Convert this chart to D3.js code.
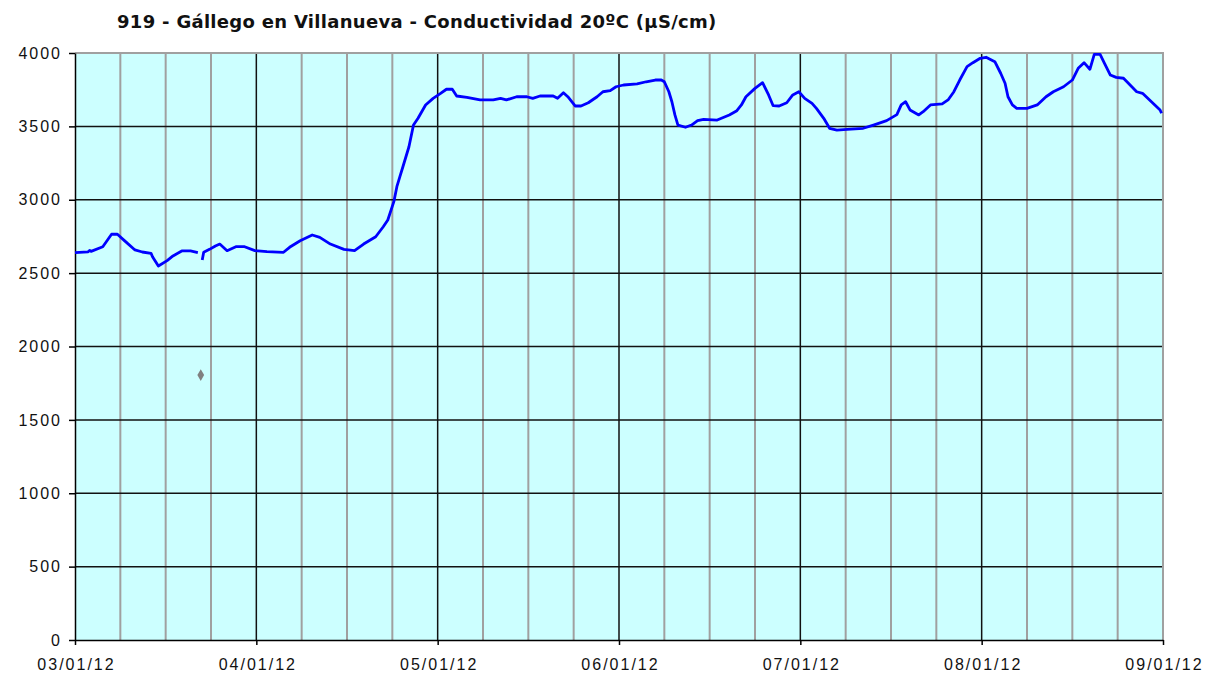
<!DOCTYPE html>
<html>
<head>
<meta charset="utf-8">
<script src="https://cdn.jsdelivr.net/npm/d3@7"></script>
<style>
  body { margin: 0; background: #fff; }
</style>
</head>
<body>
<div id="chart"></div>
<script>
const title = "919 - Gállego en Villanueva - Conductividad 20ºC (µS/cm)";
const monthTicks = ["2012-03-01", "2012-04-01", "2012-05-01", "2012-06-01", "2012-07-01", "2012-08-01", "2012-09-01"];
const yTicks = [0, 500, 1000, 1500, 2000, 2500, 3000, 3500, 4000];

// readings (null = gap in the record)
const times = [
  "2012-03-01T00", "2012-03-03T06", "2012-03-03T12", "2012-03-03T18", "2012-03-05T18", "2012-03-07T06",
  "2012-03-08T06", "2012-03-09T12", "2012-03-11T06", "2012-03-12T12", "2012-03-14T00", "2012-03-14T06",
  "2012-03-15T06", "2012-03-16T18", "2012-03-17T18", "2012-03-19T06", "2012-03-20T18", "2012-03-22T00",
  "2012-03-22T06",
  "2012-03-22T18", "2012-03-23T00", "2012-03-24T00", "2012-03-25T00", "2012-03-25T18", "2012-03-27T00",
  "2012-03-28T12", "2012-03-30T00", "2012-03-31T18",
  "2012-04-02T18", "2012-04-05T12", "2012-04-06T12", "2012-04-08T06", "2012-04-10T06", "2012-04-11T12",
  "2012-04-13T06", "2012-04-15T12", "2012-04-17T06", "2012-04-18T18", "2012-04-20T18", "2012-04-22T00",
  "2012-04-22T18", "2012-04-23T18", "2012-04-24T06", "2012-04-24T18", "2012-04-25T06", "2012-04-26T06",
  "2012-04-27T00", "2012-04-27T18", "2012-04-29T00", "2012-04-30T06",
  "2012-05-01T12", "2012-05-02T12", "2012-05-03T12", "2012-05-04T06", "2012-05-06T00", "2012-05-08T06",
  "2012-05-10T12", "2012-05-11T18", "2012-05-12T18", "2012-05-14T12", "2012-05-16T06", "2012-05-17T06",
  "2012-05-18T12", "2012-05-20T18", "2012-05-21T12", "2012-05-22T12", "2012-05-23T06", "2012-05-24T12",
  "2012-05-25T12", "2012-05-26T18", "2012-05-28T06", "2012-05-29T06", "2012-05-30T12", "2012-05-31T12",
  "2012-06-01T18", "2012-06-04T00", "2012-06-05T12", "2012-06-07T00", "2012-06-08T00", "2012-06-08T12",
  "2012-06-09T06", "2012-06-09T18", "2012-06-10T06", "2012-06-10T18", "2012-06-12T00", "2012-06-13T00",
  "2012-06-14T00", "2012-06-15T00", "2012-06-17T06", "2012-06-19T06", "2012-06-20T12", "2012-06-21T06",
  "2012-06-22T00", "2012-06-23T12", "2012-06-24T18", "2012-06-25T18", "2012-06-26T12", "2012-06-27T12",
  "2012-06-28T18", "2012-06-29T18", "2012-06-30T18",
  "2012-07-01T18", "2012-07-03T00", "2012-07-03T18", "2012-07-05T00", "2012-07-06T00", "2012-07-07T06",
  "2012-07-09T00", "2012-07-11T18", "2012-07-13T12", "2012-07-15T18", "2012-07-17T12", "2012-07-18T06",
  "2012-07-19T00", "2012-07-19T18", "2012-07-21T06", "2012-07-22T00", "2012-07-23T06", "2012-07-25T06",
  "2012-07-26T06", "2012-07-27T06", "2012-07-28T06", "2012-07-29T12", "2012-07-30T12", "2012-07-31T18",
  "2012-08-01T18", "2012-08-03T06", "2012-08-04T06", "2012-08-05T00", "2012-08-05T12", "2012-08-06T06",
  "2012-08-07T00", "2012-08-08T18", "2012-08-10T12", "2012-08-12T00", "2012-08-13T06", "2012-08-15T00",
  "2012-08-16T12", "2012-08-17T12", "2012-08-18T12", "2012-08-19T12", "2012-08-20T06", "2012-08-21T06",
  "2012-08-22T00", "2012-08-23T00", "2012-08-24T00", "2012-08-25T06", "2012-08-27T12", "2012-08-28T12",
  "2012-08-31T12", "2012-08-31T18"
];
const values = [
  2640, 2645, 2655, 2648, 2680, 2765,
  2765, 2720, 2658, 2644, 2635, 2612,
  2549, 2585, 2617, 2651, 2651, 2639,
  null,
  2589, 2642, 2662, 2685, 2698, 2653,
  2680, 2680, 2653,
  2646, 2642, 2676, 2721, 2760, 2744,
  2698, 2662, 2653, 2698, 2748, 2816,
  2862, 2987, 3089, 3157, 3225, 3361,
  3509, 3555, 3646, 3691,
  3725, 3753, 3753, 3707, 3698, 3680,
  3680, 3691, 3680, 3702, 3702, 3691,
  3707, 3707, 3691, 3729, 3702, 3639,
  3639, 3661, 3702, 3736, 3743, 3770,
  3782, 3789, 3804, 3816, 3816, 3804,
  3736, 3668, 3578, 3509, 3494, 3509,
  3539, 3548, 3543, 3578, 3607, 3646,
  3702, 3759, 3798, 3714, 3641, 3639,
  3661, 3714, 3736,
  3691, 3657, 3623, 3555, 3487, 3475,
  3480, 3487, 3509, 3539, 3580, 3646,
  3668, 3612, 3578, 3600, 3646, 3653,
  3680, 3736, 3816, 3907, 3934, 3964,
  3971, 3941, 3862, 3794, 3702, 3646,
  3623, 3623, 3646, 3702, 3736, 3770,
  3816, 3896, 3934, 3889, 3990, 3990,
  3930, 3850, 3834, 3828, 3736, 3725,
  3612, 3589
];
// isolated sample shown as a marker
const outlierTimes = ["2012-03-22T12"];
const outlierValues = [1805];

const W = 1221, H = 680;
const margin = {top: 53, right: 58, bottom: 40, left: 75};
const width = W - margin.left - margin.right;
const height = H - margin.top - margin.bottom;

const parseDay = d3.timeParse("%Y-%m-%d");
const parseHour = d3.timeParse("%Y-%m-%dT%H");
const months = monthTicks.map(parseDay);

// every month gets the same width on the axis
const x = d3.scaleTime()
  .domain(months)
  .range(months.map((d, i) => i * width / (months.length - 1)));
const y = d3.scaleLinear().domain([0, 4000]).range([height, 0]);

const svg = d3.select("#chart").append("svg")
  .attr("width", W)
  .attr("height", H)
  .style("font-family", "Verdana, 'DejaVu Sans', sans-serif");

svg.append("text")
  .attr("x", 117)
  .attr("y", 28)
  .style("font-size", "18px")
  .style("font-weight", "bold")
  .style("letter-spacing", "0.3px")
  .attr("fill", "#111")
  .text(title);

const g = svg.append("g")
  .attr("transform", `translate(${margin.left},${margin.top})`);

g.append("rect")
  .attr("width", width)
  .attr("height", height)
  .attr("fill", "#ccffff");

// minor vertical lines at quarter months
const minor = [];
for (let i = 0; i < months.length - 1; i++) {
  const a = x(months[i]), b = x(months[i + 1]);
  for (let k = 1; k < 4; k++) minor.push(a + (b - a) * k / 4);
}
g.selectAll(".minor")
  .data(minor)
  .enter().append("line")
    .attr("x1", d => d).attr("x2", d => d)
    .attr("y1", 0).attr("y2", height)
    .attr("stroke", "#a0a0a0")
    .attr("stroke-width", 2);

// month lines
g.selectAll(".month")
  .data(months.slice(1, -1))
  .enter().append("line")
    .attr("x1", d => x(d)).attr("x2", d => x(d))
    .attr("y1", 0).attr("y2", height)
    .attr("stroke", "#111")
    .attr("stroke-width", 1.5);

// horizontal lines
g.selectAll(".hgrid")
  .data(yTicks.slice(1, -1))
  .enter().append("line")
    .attr("x1", 0).attr("x2", width)
    .attr("y1", d => y(d)).attr("y2", d => y(d))
    .attr("stroke", "#111")
    .attr("stroke-width", 1.5);

// top and right border
g.append("path")
  .attr("d", `M0,0H${width}V${height}`)
  .attr("fill", "none")
  .attr("stroke", "#a0a0a0")
  .attr("stroke-width", 2);

// y axis
const yAxis = g.append("g")
  .call(d3.axisLeft(y).tickValues(yTicks).tickFormat(d3.format("d"))
    .tickSize(6).tickPadding(7).tickSizeOuter(0));
yAxis.select(".domain").attr("stroke", "#000").attr("stroke-width", 1.5);
yAxis.selectAll(".tick line").attr("stroke", "#000").attr("stroke-width", 1.5);
yAxis.selectAll("text")
  .style("font-size", "16px")
  .style("letter-spacing", "2px")
  .attr("fill", "#111");

// x axis
const fmt = d3.timeFormat("%m/%d/%y");
const xAxis = g.append("g")
  .attr("transform", `translate(0,${height})`)
  .call(d3.axisBottom(x).tickValues(months).tickFormat(fmt).tickSize(5).tickPadding(14).tickSizeOuter(0));
xAxis.select(".domain").attr("stroke", "#000").attr("stroke-width", 1.5);
xAxis.selectAll(".tick line").attr("stroke", "#000").attr("stroke-width", 1.5);
xAxis.selectAll("text")
  .style("font-size", "16px")
  .style("letter-spacing", "2px")
  .attr("dx", "1px")
  .attr("fill", "#111");

// series
const data = times.map((t, i) => ({t: parseHour(t), v: values[i]}));
const line = d3.line()
  .defined(d => d.v != null)
  .x(d => x(d.t))
  .y(d => y(d.v));

g.append("path")
  .datum(data)
  .attr("d", line)
  .attr("fill", "none")
  .attr("stroke", "#0000ff")
  .attr("stroke-width", 2.8)
  .attr("stroke-linejoin", "round");

g.selectAll(".outlier")
  .data(outlierTimes.map((t, i) => ({t: parseHour(t), v: outlierValues[i]})))
  .enter().append("path")
    .attr("d", d3.symbol(d3.symbolDiamond, 40))
    .attr("transform", d => `translate(${x(d.t)},${y(d.v)})`)
    .attr("fill", "#808080");
</script>
</body>
</html>
